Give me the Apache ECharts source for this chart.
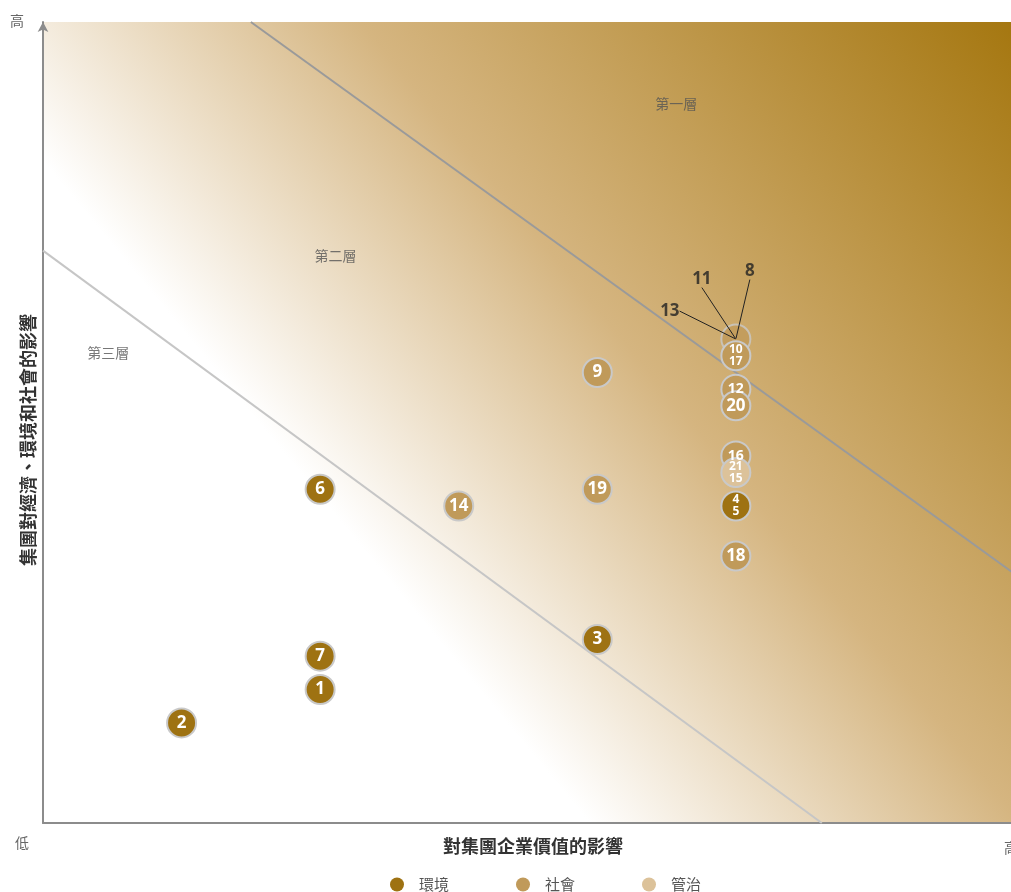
<!DOCTYPE html>
<html>
<head>
<meta charset="utf-8">
<script src="https://cdn.jsdelivr.net/npm/echarts@6/dist/echarts.min.js"></script>
<style>
  html, body { margin: 0; padding: 0; overflow: hidden; background: #fff; }
  #chart { width: 1013px; height: 892px; }
</style>
</head>
<body>
<div id="chart"></div>
<script>
// axis extent (impact units)
const xMax = 7;
const yMax = 48;

// [x, y, label]
const envPts = [[1, 6, '2'], [2, 8, '1'], [2, 10, '7'], [2, 20, '6'], [4, 11, '3'], [5, 19, '4\n5']];
const socPts = [[5, 28, '10\n17'], [4, 27, '9'], [5, 26, '12'], [5, 25, '20'], [5, 22, '16'],
                [4, 20, '19'], [3, 19, '14'], [5, 16, '18']];
const govPts = [[5, 21, '21\n15']];
const hiddenPts = [[5, 29, '13'], [5, 29, '11'], [5, 29, '8']];

const tierNames = [[4.57, 43.1, '第一層'], [2.11, 34.0, '第二層'], [0.47, 28.2, '第三層']];
const lowerLine = [[0, 34.3], [5.62, 0]];
const upperLine = [[1.5, 48], [7, 15]];

const categories = ['環境', '社會', '管治'];
const colors = ['#9e7212', '#c09a5a', '#dcc29a'];
const smallLabels = ['12', '16'];
const leaderOffsets = [{dx: -66, dy: -28}, {dx: -34, dy: -60}, {dx: 14, dy: -68}];

const numFont = 'Noto Sans';
const cjkFont = '"Noto Sans CJK TC", "Noto Sans", sans-serif';

function pointLabel(txt) {
    let size = 17, lh = 18;
    if (txt.indexOf('\n') >= 0) { size = 12; lh = 12; }
    else if (smallLabels.includes(txt)) { size = 14; lh = 14; }
    return {
        show: true, position: 'inside', formatter: txt, color: '#fff',
        fontFamily: numFont, fontWeight: 'bold', fontSize: size, lineHeight: lh
    };
}

function pointSeries(name, pts, color) {
    return {
        name: name,
        type: 'scatter',
        symbolSize: 29,
        z: 6,
        itemStyle: { color: color, borderColor: '#c9c9c9', borderWidth: 2, opacity: 1 },
        emphasis: { disabled: true },
        data: pts.map(p => ({ value: [p[0], p[1]], label: pointLabel(p[2]) }))
    };
}

const chart = echarts.init(document.getElementById('chart'));
chart.setOption({
    animation: false,
    grid: {
        left: 43, right: 0, top: 22, bottom: 69,
        show: true, borderWidth: 0,
        backgroundColor: new echarts.graphic.LinearGradient(0, 1, 1, 0, [
            { offset: 0, color: '#ffffff' },
            { offset: 0.335, color: '#ffffff' },
            { offset: 0.6, color: '#d5b580' },
            { offset: 1, color: '#a57710' }
        ])
    },
    xAxis: {
        type: 'value', min: 0, max: xMax,
        axisLine: { show: true, onZero: false, lineStyle: { color: '#8c8c8c', width: 2 } },
        axisTick: { show: false }, axisLabel: { show: false }, splitLine: { show: false },
        name: '對集團企業價值的影響', nameLocation: 'middle', nameGap: 14,
        nameTextStyle: { fontFamily: cjkFont, fontWeight: 'bold', fontSize: 18, color: '#333',
                         padding: [0, 0, 0, 10] }
    },
    yAxis: {
        type: 'value', min: 0, max: yMax,
        axisLine: { show: true, onZero: false, symbol: ['none', 'arrow'], symbolSize: [8, 10],
                    lineStyle: { color: '#8c8c8c', width: 2 } },
        axisTick: { show: false }, axisLabel: { show: false }, splitLine: { show: false }
    },
    legend: {
        data: categories,
        left: 390, top: 877, padding: 0,
        icon: 'circle', itemWidth: 14, itemHeight: 14, itemGap: 67,
        itemStyle: { borderWidth: 0 },
        textStyle: { fontFamily: cjkFont, fontSize: 15, color: '#555', padding: [0, 0, 0, 10] }
    },
    graphic: [
        { type: 'text', left: 10, top: 14, style: { text: '高', font: '14px "Noto Sans CJK TC"', fill: '#666' } },
        { type: 'text', left: 15, top: 836, style: { text: '低', font: '14px "Noto Sans CJK TC"', fill: '#666' } },
        { type: 'text', left: 1004, top: 841, style: { text: '高', font: '14px "Noto Sans CJK TC"', fill: '#666' } },
        {
            type: 'text', x: 28, y: 440, rotation: Math.PI / 2,
            style: { text: '集團對經濟、環境和社會的影響', font: 'bold 18px "Noto Sans CJK TC"',
                     fill: '#333', align: 'center', verticalAlign: 'middle' }
        }
    ],
    series: [
        {
            type: 'line', data: lowerLine, symbol: 'none', silent: true, z: 2,
            lineStyle: { color: '#c6c6c6', width: 2 }
        },
        {
            type: 'line', data: upperLine, symbol: 'none', silent: true, z: 2,
            lineStyle: { color: '#9a9a9a', width: 2 }
        },
        {
            type: 'scatter', symbolSize: 0, silent: true, z: 3,
            data: tierNames.map(t => ({ value: [t[0], t[1]], name: t[2] })),
            label: { show: true, position: 'inside', formatter: '{b}', color: '#555',
                     fontFamily: cjkFont, fontSize: 14 }
        },
        {
            // circle hiding points 13, 11 and 8
            type: 'scatter', symbolSize: 29, z: 4, silent: true,
            itemStyle: { color: colors[1], borderColor: '#c9c9c9', borderWidth: 2 },
            data: hiddenPts.slice(0, 1).map(p => [p[0], p[1]])
        },
        {
            // leader labels drawn from the circle centre
            type: 'scatter', symbolSize: 1, z: 5, silent: true,
            itemStyle: { color: 'rgba(0,0,0,0)' },
            data: hiddenPts.map(p => ({ value: [p[0], p[1]], name: p[2] })),
            label: { show: true, position: 'inside', formatter: '{b}', color: '#222',
                     fontFamily: numFont, fontWeight: 'bold', fontSize: 17 },
            labelLayout: function (p) { return leaderOffsets[p.dataIndex]; },
            labelLine: { show: true, lineStyle: { color: '#222', width: 1 } }
        },
        pointSeries(categories[0], envPts, colors[0]),
        pointSeries(categories[1], socPts, colors[1]),
        pointSeries(categories[2], govPts, colors[2])
    ]
});
</script>
</body>
</html>
